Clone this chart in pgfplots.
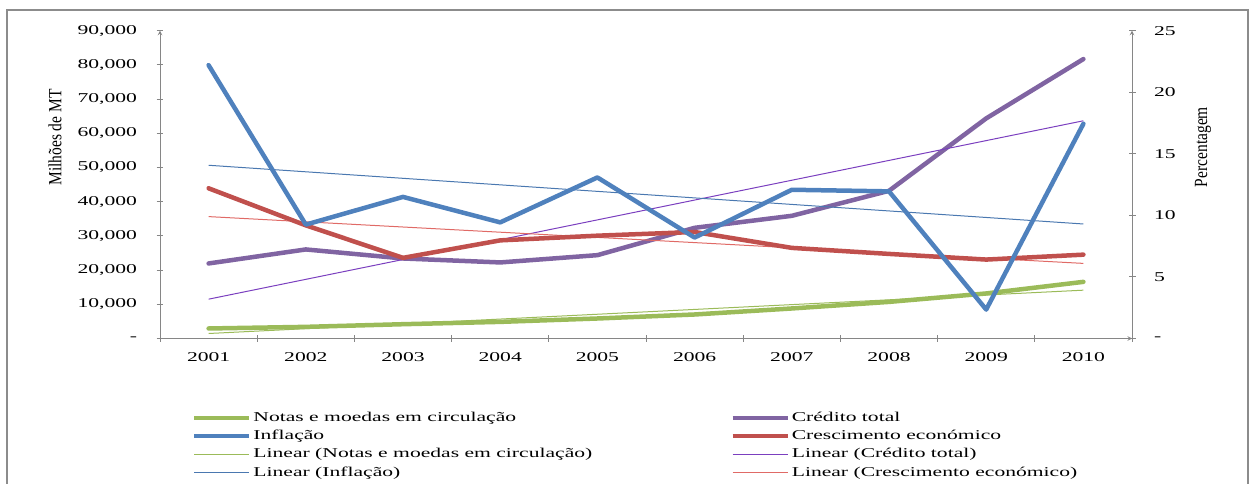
\documentclass[border=0pt]{standalone}
\usepackage{pgfplots}
\pgfplotsset{compat=1.18}
\usepackage{fontspec}
\setmainfont{Liberation Serif}[FakeStretch=1.6]
\newfontfamily\titlefont{Liberation Serif}

\definecolor{notas}{HTML}{9BBB59}
\definecolor{credito}{HTML}{8064A2}
\definecolor{inflacao}{HTML}{4F81BD}
\definecolor{cresc}{HTML}{C0504D}
\definecolor{tnotas}{HTML}{9BBB59}
\definecolor{tcredito}{HTML}{7B3FBF}
\definecolor{tinflacao}{HTML}{4A78B0}
\definecolor{tcresc}{HTML}{E06A66}
\definecolor{axisgray}{HTML}{868686}
\definecolor{framegray}{HTML}{8C8C8C}

\newcommand{\lblfont}{\fontsize{13.5}{16}\selectfont}

\pgfplotsset{
  base/.style={
    at={(160pt,145.5pt)}, anchor=south west,
    scale only axis, width=972pt, height=307.8pt,
    xmin=0, xmax=10,
    scaled y ticks=false,
    axis line style={-, draw=axisgray, line width=1pt},
    tick align=outside, major tick length=7pt,
    tick style={draw=axisgray, line width=1pt},
    ticklabel style={font=\lblfont},
    clip=false,
  },
  serie/.style={line width=4.5pt, line join=round, line cap=round},
  tend/.style={line width=1pt},
}

\begin{document}
\begin{tikzpicture}[x=1pt,y=1pt]
\useasboundingbox (0,0) rectangle (1251,484);
\draw[framegray, line width=2pt] (7,-5) -- (7,474) -- (1248,474) -- (1248,-5);

\begin{axis}[base,
  axis x line=bottom, axis y line=left,
  ymin=0, ymax=90000,
  xtick={0,1,...,10}, xticklabels={},
  extra x ticks={0.5,1.5,2.5,3.5,4.5,5.5,6.5,7.5,8.5,9.5},
  extra x tick labels={2001,2002,2003,2004,2005,2006,2007,2008,2009,2010},
  extra x tick style={major tick length=0pt, xticklabel style={yshift=-10pt}},
  ytick={0,10000,20000,30000,40000,50000,60000,70000,80000,90000},
  yticklabels={{-},{10,000},{20,000},{30,000},{40,000},{50,000},{60,000},{70,000},{80,000},{90,000}},
  yticklabel style={xshift=-16pt},
  legend columns=2,
  legend cell align=left,
  legend image code/.code={\draw[#1] (0pt,0pt) -- (55pt,0pt);},
  legend style={at={(0.0329,-0.235)}, anchor=north west, draw=none, fill=none,
    inner sep=0pt, outer sep=0pt, row sep=4.3pt, font=\lblfont,
    nodes={inner sep=0pt, text height=10.5pt, text depth=3.5pt},
    /tikz/every odd column/.append style={column sep=2pt},
    /tikz/every even column/.append style={column sep=138pt}},
]
% Crédito total e notas (milhões de MT)
\addplot[serie, credito, forget plot] coordinates {
  (0.5,21940) (1.5,26040) (2.5,23400) (3.5,22240) (4.5,24370)
  (5.5,32360) (6.5,35870) (7.5,43180) (8.5,64360) (9.5,81710)};
\addplot[serie, notas, forget plot] coordinates {
  (0.5,2930) (1.5,3400) (2.5,4180) (3.5,4860) (4.5,5850)
  (5.5,7020) (6.5,8780) (7.5,10700) (8.5,13170) (9.5,16560)};
% tendencias lineares
\addplot[tend, tnotas, forget plot] coordinates {(0.5,1460) (9.5,14130)};
\addplot[tend, tcredito, forget plot] coordinates {(0.5,11500) (9.5,63660)};

\addlegendimage{serie, notas, line cap=butt}
\addlegendentry{Notas e moedas em circulação}
\addlegendimage{serie, credito, line cap=butt}
\addlegendentry{Crédito total}
\addlegendimage{serie, inflacao, line cap=butt}
\addlegendentry{Inflação}
\addlegendimage{serie, cresc, line cap=butt}
\addlegendentry{Crescimento económico}
\addlegendimage{tend, tnotas}
\addlegendentry{Linear (Notas e moedas em circulação)}
\addlegendimage{tend, tcredito}
\addlegendentry{Linear (Crédito total)}
\addlegendimage{tend, tinflacao}
\addlegendentry{Linear (Inflação)}
\addlegendimage{tend, tcresc}
\addlegendentry{Linear (Crescimento económico)}
\end{axis}

\begin{axis}[base,
  axis x line=none, axis y line=right,
  ymin=0, ymax=25,
  ytick={0,5,10,15,20,25},
  yticklabels={{-},5,10,15,20,25},
  yticklabel style={xshift=15pt},
]
\addplot[tend, tinflacao] coordinates {(0.5,14.07) (9.5,9.3)};
\addplot[tend, tcresc] coordinates {(0.5,9.9) (9.5,6.1)};
% Inflação e crescimento (percentagem)
\addplot[serie, cresc] coordinates {
  (0.5,12.2) (1.5,9.19) (2.5,6.55) (3.5,7.97) (4.5,8.35)
  (5.5,8.65) (6.5,7.36) (7.5,6.87) (8.5,6.41) (9.5,6.81)};
\addplot[serie, inflacao] coordinates {
  (0.5,22.2) (1.5,9.25) (2.5,11.5) (3.5,9.43) (4.5,13.08)
  (5.5,8.2) (6.5,12.08) (7.5,11.95) (8.5,2.35) (9.5,17.44)};
\end{axis}

\node[rotate=90, font=\titlefont\fontsize{15.5}{18}\selectfont]
  at (55,346.5) {\scalebox{1}[1.2]{Milhões de MT}};
\node[rotate=90, font=\titlefont\fontsize{15.5}{18}\selectfont]
  at (1203,337) {\scalebox{1}[1.2]{Percentagem}};
\end{tikzpicture}
\end{document}
